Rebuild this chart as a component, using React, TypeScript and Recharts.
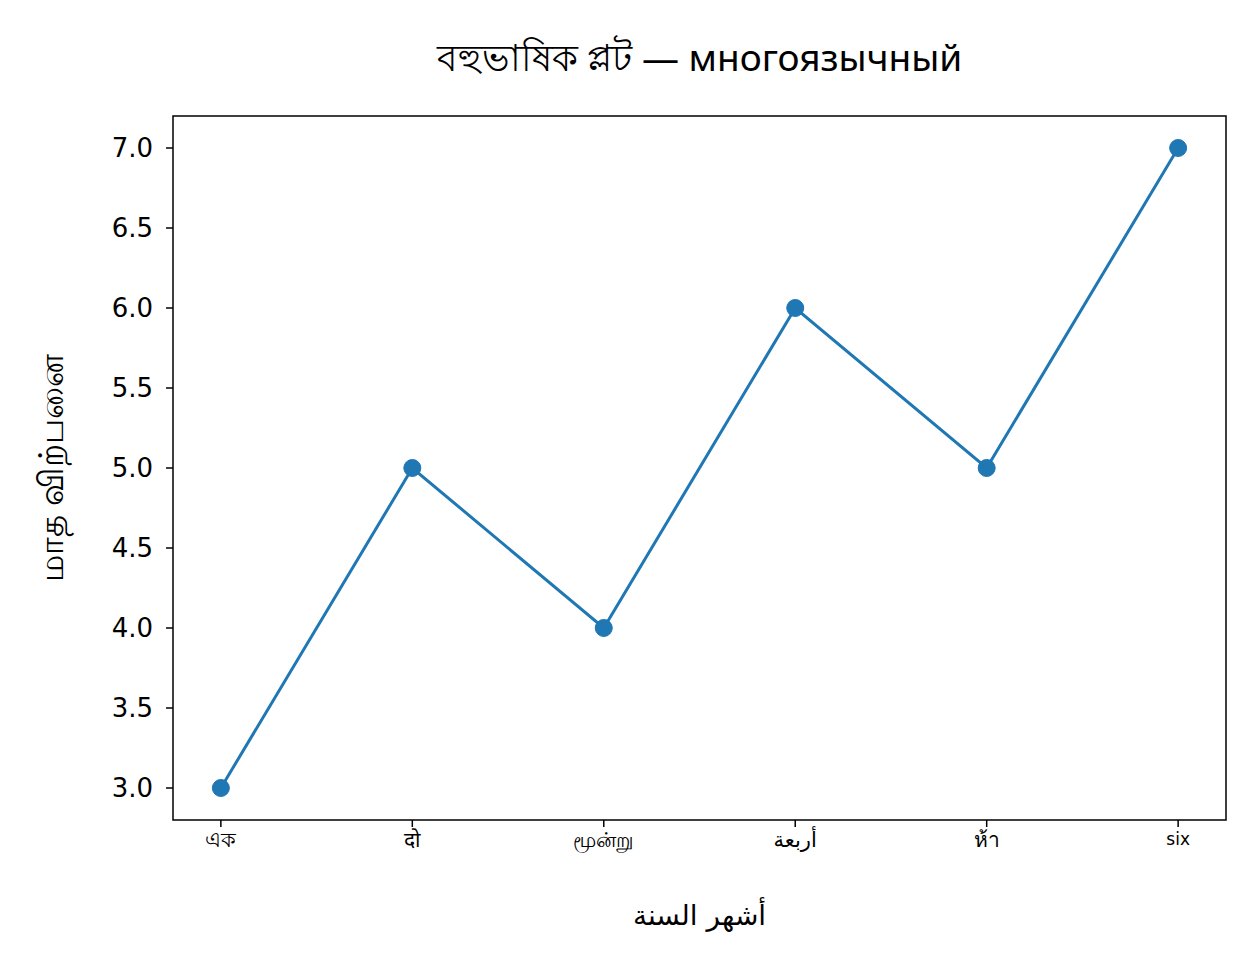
import { LineChart, Line, XAxis, YAxis, ReferenceArea } from "recharts"

const months = ["এক", "दो", "மூன்று", "أربعة", "ห้า", "six"]
const sales = [3, 5, 4, 6, 5, 7]
const yTicks = [3.0, 3.5, 4.0, 4.5, 5.0, 5.5, 6.0, 6.5, 7.0]

const title = "বহুভাষিক প্লট — многоязычный"
const yLabel = "மாத விற்பனை"
const xLabel = "أشهر السنة"

const data = months.map((m, i) => ({ x: i, name: m, value: sales[i] }))

const blue = "#1f77b4"

// fallback fonts for the non-latin scripts render smaller, so bump them a bit
function MonthTick(props: any) {
  const { x, y, payload } = props
  const label = months[payload.value]
  const latin = /^[a-z]+$/i.test(label)
  return (
    <text
      x={x}
      y={y + 3}
      textAnchor="middle"
      dominantBaseline="hanging"
      fill="#000"
      fontSize={latin ? 17 : 21}
      fontFamily="DejaVu Sans"
    >
      {label}
    </text>
  )
}

export default function App() {
  return (
    <div style={{ position: "absolute", left: 0, top: 0, width: 1246, height: 966, background: "#fff" }}>
      <LineChart width={1246} height={966} data={data} margin={{ top: 116, right: 20, bottom: 0, left: 0 }}>
        <ReferenceArea x1={-0.25} x2={5.25} y1={2.8} y2={7.2} fill="none" stroke="#000" strokeWidth={1.5} />
        <XAxis
          dataKey="x"
          type="number"
          domain={[-0.25, 5.25]}
          ticks={[0, 1, 2, 3, 4, 5]}
          axisLine={false}
          tickLine={{ stroke: "#000", strokeWidth: 1.5 }}
          tickSize={7}
          height={146}
          tick={<MonthTick />}
          allowDataOverflow
        />
        <YAxis
          type="number"
          domain={[2.8, 7.2]}
          ticks={yTicks}
          tickFormatter={(v) => Number(v).toFixed(1)}
          axisLine={false}
          tickLine={{ stroke: "#000", strokeWidth: 1.5 }}
          tickSize={7}
          tickMargin={13}
          width={173}
          tick={{ fill: "#000", fontSize: 26, fontFamily: "DejaVu Sans" }}
          allowDataOverflow
        />
        <Line
          type="linear"
          dataKey="value"
          stroke={blue}
          strokeWidth={3}
          dot={{ r: 8.5, fill: blue, stroke: blue, strokeWidth: 1 }}
          isAnimationActive={false}
        />
      </LineChart>
      <div
        style={{
          position: "absolute",
          left: 173,
          width: 1053,
          top: 34,
          textAlign: "center",
          fontFamily: "Noto Sans, DejaVu Sans",
          fontSize: 37,
          lineHeight: "46px",
          color: "#000",
        }}
      >
        {title}
      </div>
      <div
        style={{
          position: "absolute",
          left: 173,
          width: 1053,
          top: 896,
          textAlign: "center",
          fontFamily: "DejaVu Sans",
          fontSize: 28,
          lineHeight: "40px",
          color: "#000",
        }}
      >
        {xLabel}
      </div>
      <div
        style={{
          position: "absolute",
          left: 50,
          top: 468,
          transform: "translate(-50%, -50%) rotate(-90deg)",
          whiteSpace: "nowrap",
          fontFamily: "Noto Sans, DejaVu Sans",
          fontSize: 34,
          lineHeight: "44px",
          color: "#000",
        }}
      >
        {yLabel}
      </div>
    </div>
  )
}
